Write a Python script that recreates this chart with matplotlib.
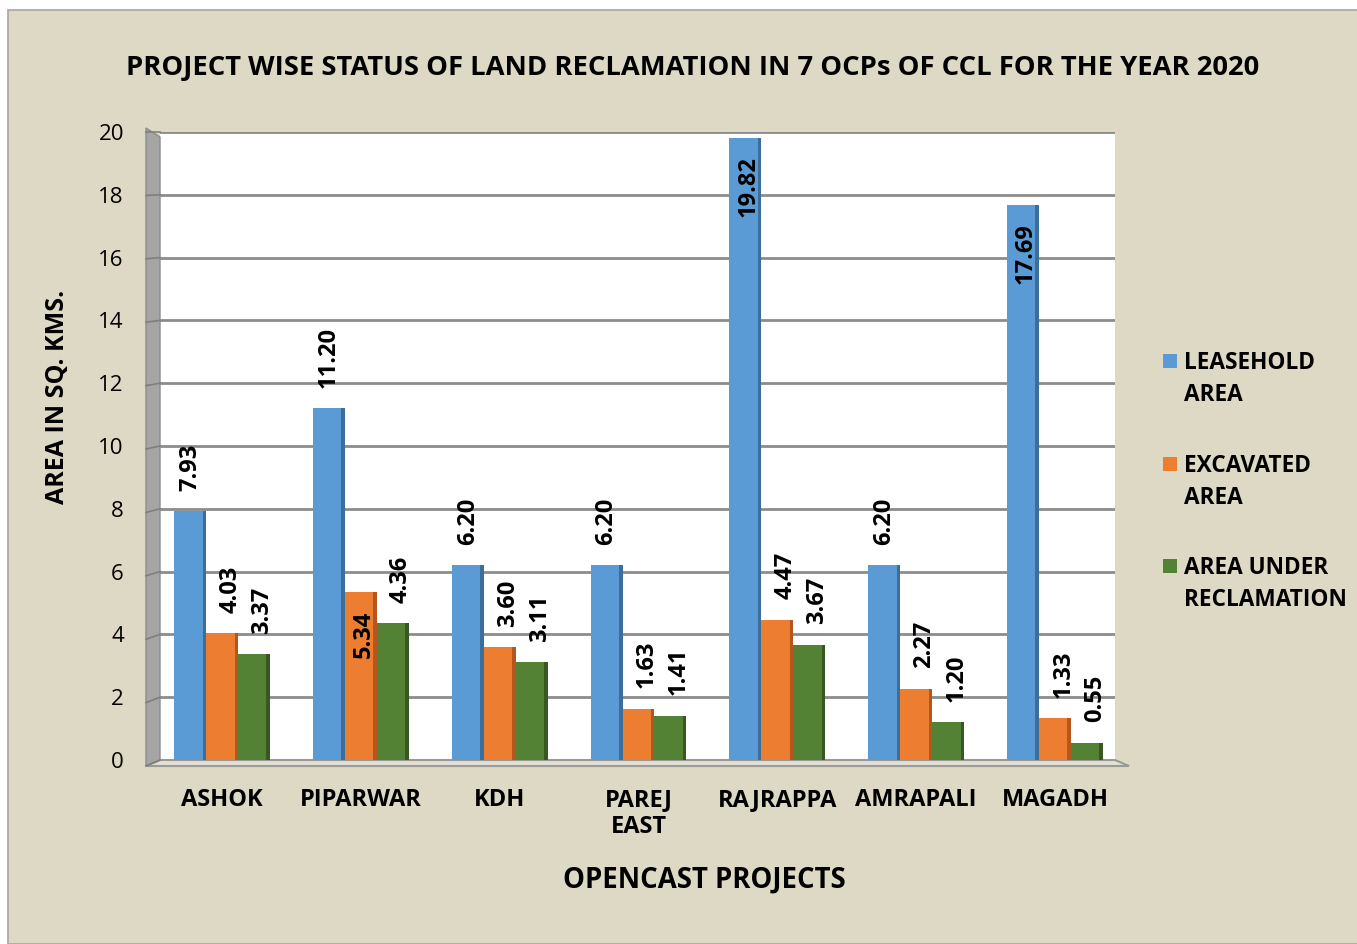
import numpy as np
import matplotlib
matplotlib.use("Agg")
import matplotlib.pyplot as plt
from matplotlib.patches import Polygon, Rectangle

# data
projects = ["ASHOK", "PIPARWAR", "KDH", "PAREJ\nEAST", "RAJRAPPA", "AMRAPALI", "MAGADH"]
leasehold = [7.93, 11.20, 6.20, 6.20, 19.82, 6.20, 17.69]
excavated = [4.03, 5.34, 3.60, 1.63, 4.47, 2.27, 1.33]
reclamation = [3.37, 4.36, 3.11, 1.41, 3.67, 1.20, 0.55]
series_names = ["LEASEHOLD\nAREA", "EXCAVATED\nAREA", "AREA UNDER\nRECLAMATION"]

colors = ["#5B9BD5", "#ED7D31", "#548235"]
side_colors = ["#3C6E9C", "#B5571C", "#385723"]
bg = "#DDD9C4"

plt.rcParams["font.family"] = ["Open Sans", "DejaVu Sans"]

W, H = 1357, 944
fig = plt.figure(figsize=(W / 100, H / 100), dpi=100, facecolor="white")

# beige chart frame
fig.patches.append(Rectangle((8 / W, 0), 1, 1 - 10 / H, transform=fig.transFigure,
                             facecolor=bg, edgecolor="#A6A6A6", lw=1.2, zorder=-5))

left, right, top, bottom = 160, 1115, 132, 760
ax = fig.add_axes([left / W, 1 - bottom / H, (right - left) / W, (bottom - top) / H])
ax.set_facecolor("white")
ax.set_ylim(0, 20)
ax.set_xlim(-0.447, 6.433)

# 3d-looking wall and floor (axes coords)
dx = 14 / (right - left)
dy = 6 / (bottom - top)
wall = Polygon([(-dx, -dy), (0, 0), (0, 1 - 5 / (bottom - top)), (-dx, 1 + 4 / (bottom - top))],
               closed=True, transform=ax.transAxes, facecolor="#A5A5A5",
               edgecolor="#8C8C8C", lw=1, clip_on=False, zorder=3)
floor = Polygon([(-dx, -dy), (0, 0), (1, 0), (1 + dx, -dy)], closed=True,
                transform=ax.transAxes, facecolor="#E4E1D3", edgecolor="#9A9A9A",
                lw=1.5, clip_on=False, zorder=3)
ax.add_patch(wall)
ax.add_patch(floor)

for v in range(0, 21, 2):
    ax.axhline(v, color="#8C8C8C", lw=2, zorder=1)
    yv = ax.transLimits.transform((0, v))[1]
    ax.plot([-dx, 0], [yv - dy * (1 - yv), yv], transform=ax.transAxes,
            color="#7F7F7F", lw=1.2, clip_on=False, zorder=4)

x = np.arange(len(projects))
bw = 0.23
side = 0.025
all_series = [leasehold, excavated, reclamation]
for i, vals in enumerate(all_series):
    xs = x + (i - 1) * bw
    ax.bar(xs, vals, width=bw, color=colors[i], zorder=5)
    ax.bar(xs + bw / 2 - side / 2, vals, width=side, color=side_colors[i], zorder=6)
    for xi, v in zip(xs, vals):
        txt = f"{v:.2f}"
        if v > 15 or (i == 1 and v > 5):
            ax.text(xi + 0.02, v - 0.6, txt, rotation=90, ha="center", va="top",
                    fontsize=17, fontweight="bold", zorder=7)
        else:
            ax.text(xi + 0.06 * (i > 0), v + 0.65, txt, rotation=90, ha="center",
                    va="bottom", fontsize=17, fontweight="bold", zorder=7)

for s in ax.spines.values():
    s.set_visible(False)
ax.tick_params(length=0)
ax.set_yticks(range(0, 21, 2))
ax.set_yticklabels([str(v) for v in range(0, 21, 2)], fontsize=16)
ax.tick_params(axis="y", pad=26)
ax.set_xticks(x)
ax.set_xticklabels(projects, fontsize=17, fontweight="bold", linespacing=1.2)
ax.tick_params(axis="x", pad=20)

fig.text(704 / W, 1 - 880 / H, "OPENCAST PROJECTS", ha="center", va="center",
         fontsize=19.8, fontweight="bold")
fig.text(57 / W, 1 - 397 / H, "AREA IN SQ. KMS.", ha="center", va="center",
         rotation=90, fontsize=18, fontweight="bold")

fig.text(693 / W, 1 - 68 / H,
         "PROJECT WISE STATUS OF LAND RECLAMATION IN 7 OCPs OF CCL FOR THE YEAR 2020",
         ha="center", va="center", fontsize=19.7, fontweight="bold")

# legend: square + two-line label per series
leg_y = [361, 464, 566]
for name, c, yy in zip(series_names, colors, leg_y):
    fig.patches.append(Rectangle((1163 / W, 1 - (yy + 7) / H), 14 / W, 14 / H,
                                 transform=fig.transFigure, facecolor=c, lw=0))
    fig.text(1184 / W, 1 - (yy - 10) / H, name, ha="left", va="top",
             fontsize=16.3, fontweight="bold", linespacing=1.45)

fig.savefig("out.png", dpi=100, facecolor=fig.get_facecolor())
